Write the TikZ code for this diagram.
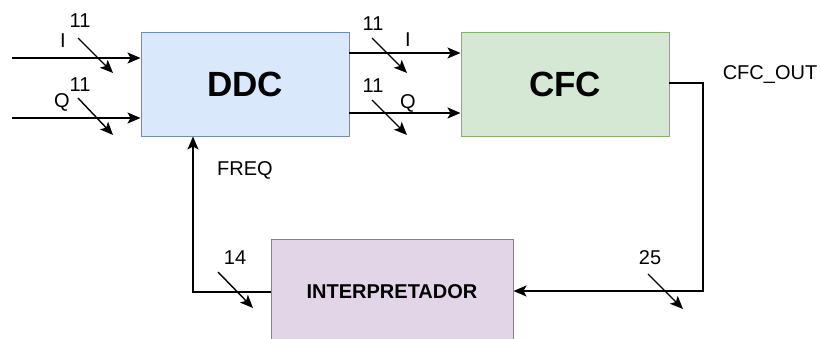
\documentclass[tikz,border=0pt]{standalone}
\usepackage{fontspec}
\setmainfont{Liberation Sans}
\usetikzlibrary{arrows.meta}
\definecolor{ddcfill}{HTML}{DAE8FC}
\definecolor{ddcline}{HTML}{6C8EBF}
\definecolor{cfcfill}{HTML}{D5E8D4}
\definecolor{cfcline}{HTML}{82B366}
\definecolor{intfill}{HTML}{E1D5E7}
\definecolor{intline}{HTML}{9673A6}
\begin{document}
\begin{tikzpicture}[x=1pt,y=-1pt,
    block/.style={draw,line width=1pt,inner sep=0pt},
    lbl/.style={inner sep=0pt,font=\fontsize{20}{24}\selectfont},
    wire/.style={line width=1.4pt},
    arr/.style={line width=1.4pt,-{Stealth[length=13pt,width=11pt,inset=3pt]}}]
       \useasboundingbox (0,0) rectangle (821,338);
       \node[block,fill=ddcfill,draw=ddcline,minimum width=208pt,minimum height=104pt,
             font=\fontsize{35}{40}\selectfont\bfseries] (ddc) at (245,84) {DDC};
       \node[block,fill=cfcfill,draw=cfcline,minimum width=208pt,minimum height=104pt,
             font=\fontsize{35}{40}\selectfont\bfseries] (cfc) at (565,84) {CFC};
       \node[block,fill=intfill,draw=intline,minimum width=242pt,minimum height=106pt,
             font=\fontsize{20}{24}\selectfont\bfseries] (int) at (392,292) {INTERPRETADOR};

       % inputs
       \coordinate (iin) at (12,58);
       \coordinate (qin) at (12,118);
       \draw[arr] (iin) -- (iin -| ddc.west);
       \draw[arr] (qin) -- (qin -| ddc.west);

       % DDC to CFC
       \coordinate (iout) at (349,53);
       \coordinate (qout) at (349,113);
       \draw[arr] (iout) -- (iout -| cfc.west);
       \draw[arr] (qout) -- (qout -| cfc.west);

       % CFC out to interpretador
       \coordinate (cfcout) at (669,83);
       \coordinate (corner1) at (703,83);
       \coordinate (corner2) at (703,291);
       \draw[arr] (cfcout) -- (corner1) -- (corner2) -- (corner2 -| int.east);

       % FREQ back to DDC
       \coordinate (corner3) at (193,292);
       \draw[arr] (int.west |- corner3) -- (corner3) -- (corner3 |- ddc.south);

       % bus width marks
       \coordinate (s1a) at (78,38);   \coordinate (s1b) at (113,73);
       \coordinate (s2a) at (78,98);   \coordinate (s2b) at (113,135);
       \coordinate (s3a) at (372,38);  \coordinate (s3b) at (407,73);
       \coordinate (s4a) at (372,100); \coordinate (s4b) at (407,135);
       \coordinate (s5a) at (218,272); \coordinate (s5b) at (253,308);
       \coordinate (s6a) at (648,274); \coordinate (s6b) at (683,309);
       \foreach \s in {1,...,6}
         \draw[arr] (s\s a) -- (s\s b);

       % labels
       \node[lbl] (n1) at (80,21) {11};
       \node[lbl] (li) at (63,41) {I};
       \node[lbl] (n2) at (80,85) {11};
       \node[lbl] (lq) at (62,102) {Q};
       \node[lbl] (n3) at (373,24) {11};
       \node[lbl] (ri) at (408,40) {I};
       \node[lbl] (n4) at (373,86) {11};
       \node[lbl] (rq) at (408,103) {Q};
       \node[lbl] (out) at (770,75) {CFC\_OUT};
       \node[lbl] (freq) at (245,170) {FREQ};
       \node[lbl] (n5) at (235,258) {14};
       \node[lbl] (n6) at (650,258) {25};
\end{tikzpicture}
\end{document}
